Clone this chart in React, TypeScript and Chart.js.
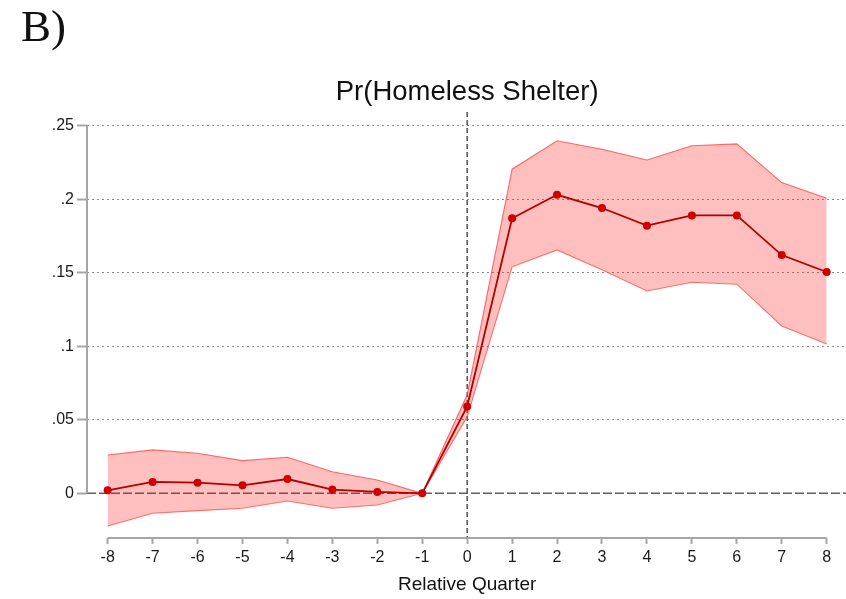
import React, { useEffect, useRef } from "react";
import { Chart, registerables } from "chart.js";

Chart.register(...registerables);

const quarters = [-8, -7, -6, -5, -4, -3, -2, -1, 0, 1, 2, 3, 4, 5, 6, 7, 8];
const estimate = [0.002, 0.0077, 0.0072, 0.0054, 0.0097, 0.0025, 0.0009, 0, 0.059, 0.187, 0.203, 0.194, 0.182, 0.189, 0.189, 0.162, 0.1505];
const ciUpper = [0.026, 0.0295, 0.0272, 0.0222, 0.0245, 0.0147, 0.009, 0, 0.067, 0.2204, 0.2397, 0.234, 0.2267, 0.2363, 0.2376, 0.2113, 0.2007];
const ciLower = [-0.0222, -0.0136, -0.0118, -0.0102, -0.0052, -0.0102, -0.008, 0, 0.052, 0.154, 0.1655, 0.152, 0.1376, 0.1435, 0.1422, 0.1138, 0.1016];
const yTickValues = [0, 0.05, 0.1, 0.15, 0.2, 0.25];
const yTickLabels = ["0", ".05", ".1", ".15", ".2", ".25"];
const xTickLabels = ["-8", "-7", "-6", "-5", "-4", "-3", "-2", "-1", "0", "1", "2", "3", "4", "5", "6", "7", "8"];
const titleText = "Pr(Homeless Shelter)";
const xAxisTitle = "Relative Quarter";
const panelLabel = "B)";

const FONT = "'Liberation Sans', Arial, Helvetica, sans-serif";
const AXIS_GRAY = "#a6a6a6";

const decorPlugin = {
  id: "decor",
  beforeDatasetsDraw(chart: any) {
    const { ctx, chartArea, scales } = chart;
    const x = scales.x;
    const y = scales.y;
    ctx.save();
    const y0 = y.getPixelForValue(0);
    ctx.strokeStyle = "#606060";
    ctx.lineWidth = 1.4;
    ctx.setLineDash([9, 3]);
    ctx.beginPath();
    ctx.moveTo(chartArea.left, y0);
    ctx.lineTo(chartArea.right, y0);
    ctx.stroke();
    const x0 = x.getPixelForValue(0);
    ctx.strokeStyle = "#3a3a3a";
    ctx.lineWidth = 1.3;
    ctx.setLineDash([5, 3]);
    ctx.beginPath();
    ctx.moveTo(x0, chartArea.top);
    ctx.lineTo(x0, chartArea.bottom);
    ctx.stroke();
    ctx.restore();
  },
  afterDraw(chart: any) {
    const { ctx, chartArea, scales } = chart;
    const x = scales.x;
    const y = scales.y;
    ctx.save();
    ctx.setLineDash([]);
    ctx.strokeStyle = AXIS_GRAY;
    ctx.lineWidth = 2;
    ctx.beginPath();
    ctx.moveTo(chartArea.left, y.getPixelForValue(yTickValues[0]));
    ctx.lineTo(chartArea.left, y.getPixelForValue(yTickValues[yTickValues.length - 1]));
    ctx.stroke();
    ctx.beginPath();
    ctx.moveTo(x.getPixelForValue(quarters[0]), chartArea.bottom);
    ctx.lineTo(x.getPixelForValue(quarters[quarters.length - 1]), chartArea.bottom);
    ctx.stroke();
    const cx = (x.getPixelForValue(quarters[0]) + x.getPixelForValue(quarters[quarters.length - 1])) / 2;
    ctx.fillStyle = "#111111";
    ctx.textAlign = "center";
    ctx.textBaseline = "alphabetic";
    ctx.font = "27.5px " + FONT;
    ctx.fillText(titleText, cx, 100);
    ctx.font = "19px " + FONT;
    ctx.fillText(xAxisTitle, cx, 590);
    ctx.textAlign = "left";
    ctx.font = "45px 'Liberation Serif', 'Times New Roman', serif";
    ctx.fillText(panelLabel, 21, 41);
    ctx.restore();
  },
};

export default function App() {
  const canvasRef = useRef<HTMLCanvasElement | null>(null);

  useEffect(() => {
    document.body.style.margin = "0";
    const canvas = canvasRef.current;
    if (!canvas) return;
    const toPoints = (vals: number[]) => quarters.map((q, i) => ({ x: q, y: vals[i] }));

    const chart = new Chart(canvas, {
      type: "line",
      data: {
        datasets: [
          {
            label: "Estimate",
            data: toPoints(estimate),
            borderColor: "#b00000",
            backgroundColor: "#d00000",
            borderWidth: 1.8,
            pointRadius: 4,
            pointBackgroundColor: "#d00000",
            pointBorderWidth: 0,
            fill: false,
            order: 0,
          },
          {
            label: "Upper",
            data: toPoints(ciUpper),
            borderColor: "rgba(255,80,80,0.8)",
            borderWidth: 1.1,
            pointRadius: 0,
            fill: false,
            order: 2,
          },
          {
            label: "Lower",
            data: toPoints(ciLower),
            borderColor: "rgba(255,80,80,0.8)",
            backgroundColor: "rgba(255,0,0,0.25)",
            borderWidth: 1.1,
            pointRadius: 0,
            fill: "-1",
            order: 1,
          },
        ],
      },
      options: {
        responsive: false,
        animation: false,
        layout: { autoPadding: false, padding: { top: 112, left: 0, right: 0, bottom: 0 } },
        plugins: {
          legend: { display: false },
          tooltip: { enabled: false },
          title: { display: false },
        },
        scales: {
          x: {
            type: "linear",
            min: -8.46,
            max: 8.43,
            afterFit: (scale: any) => {
              scale.height = 61;
              scale.paddingLeft = 0;
              scale.paddingRight = 0;
            },
            afterBuildTicks: (scale: any) => {
              scale.ticks = quarters.map((v) => ({ value: v }));
            },
            ticks: {
              callback: (_v: any, i: number) => xTickLabels[i],
              font: { size: 16, family: FONT },
              color: "#1a1a1a",
              padding: 4,
              maxRotation: 0,
              autoSkip: false,
            },
            grid: {
              drawOnChartArea: false,
              drawTicks: true,
              tickLength: 6,
              tickColor: AXIS_GRAY,
              tickWidth: 2,
            },
            border: { display: false },
          },
          y: {
            type: "linear",
            min: -0.0304,
            max: 0.2593,
            afterFit: (scale: any) => {
              scale.width = 87;
              scale.paddingTop = 0;
              scale.paddingBottom = 0;
            },
            afterBuildTicks: (scale: any) => {
              scale.ticks = yTickValues.map((v) => ({ value: v }));
            },
            ticks: {
              callback: (_v: any, i: number) => yTickLabels[i],
              font: { size: 16, family: FONT },
              color: "#1a1a1a",
              padding: 3,
              autoSkip: false,
            },
            grid: {
              drawOnChartArea: true,
              drawTicks: true,
              tickLength: 10,
              tickColor: AXIS_GRAY,
              tickWidth: 2,
              lineWidth: 1,
              color: (c: any) => (c.tick && c.tick.value === 0 ? "rgba(0,0,0,0)" : "#8c8c8c"),
            },
            border: { display: false, dash: [2, 3] },
          },
        },
      },
      plugins: [decorPlugin],
    });
    return () => chart.destroy();
  }, []);

  return (
    <div style={{ position: "fixed", left: 0, top: 0, width: 846, height: 599, background: "#fff" }}>
      <canvas ref={canvasRef} width={846} height={599} />
    </div>
  );
}
